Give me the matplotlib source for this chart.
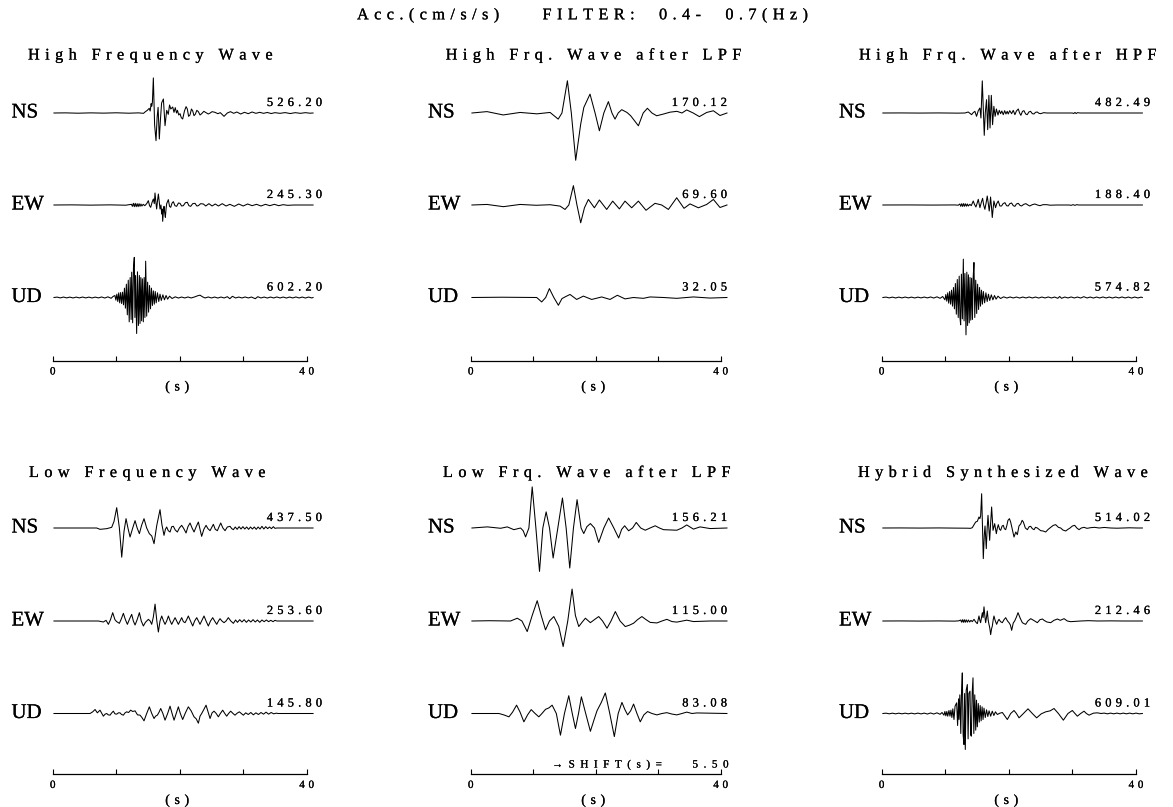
import matplotlib
matplotlib.use("Agg")
import matplotlib.pyplot as plt
import matplotlib.patheffects as pe

W, H = 1173, 807
SERIF = ["Liberation Serif", "DejaVu Serif"]

# ---- data: (time s, acceleration cm/s/s) ----
MAIN_TITLE = "Acc.(cm/s/s)    FILTER:  0.4-  0.7(Hz)"
PANEL_TITLES = [["High Frequency Wave", "High Frq. Wave after LPF", "High Frq. Wave after HPF"],
                ["Low Frequency Wave", "Low Frq. Wave after LPF", "Hybrid Synthesized Wave"]]
COMPONENTS = ["NS", "EW", "UD"]
PEAKS = [[["526.20", "245.30", "602.20"], ["170.12", "69.60", "32.05"], ["482.49", "188.40", "574.82"]],
         [["437.50", "253.60", "145.80"], ["156.21", "115.00", "83.08"], ["514.02", "212.46", "609.01"]]]
TIME_TICKS = [0, 10, 20, 30, 40]
TIME_TICK_LABELS = ["0", "", "", "", "40"]
SHIFT_TEXT = "→SHIFT(s)=   5.50"

hf_ns = [(0.2, 0), (2.0, 2), (4.0, -3), (6.0, 2), (8.0, -2), (10.0, 3), (12.0, -3), (13.5, 2), (14.3, -5),
         (14.6, 20), (14.9, 40), (15.2, 70), (15.35, 30), (15.5, 140), (15.6, 100), (15.7, 160), (15.85, 526),
         (16.05, -180), (16.27, -415), (16.45, -60), (16.6, 85), (16.79, -390), (16.95, -120), (17.15, 150),
         (17.43, 210), (17.69, -190), (17.95, 40), (18.2, -20), (18.4, 120), (18.6, 60), (18.9, 90), (19.1, 10),
         (19.3, 80), (19.5, 0), (19.65, 40), (19.85, -30), (20.05, -10), (20.25, -70), (20.47, -90), (20.75, 30),
         (21.0, 95), (21.2, 60), (21.4, -50), (21.62, -30), (21.85, 60), (22.05, 30), (22.25, -40), (22.45, -20),
         (22.7, 40), (22.94, 20), (23.2, -30), (23.46, -10), (23.8, 25), (24.15, 5), (24.5, -15), (24.8, 0),
         (25.1, 20), (25.56, 10), (26.0, -10), (26.4, 5), (26.98, -50), (27.5, 0), (28.0, 20), (28.5, -5),
         (29.0, 15), (29.6, -15), (30.2, 10), (30.8, -10), (31.4, 15), (32.0, -5), (32.6, 10), (33.2, -5),
         (33.8, 8), (34.4, -8), (35.0, 5), (35.8, -5), (36.6, 6), (37.4, -8), (38.2, 5), (39.0, -5), (39.8, 5),
         (40.5, -3), (41.0, 0)]
hf_ew = [(0.2, 0), (3, 2), (6, -2), (9, 2), (11.5, -3), (12.4, 10), (12.55, -20), (12.7, 25), (12.85, -25),
         (13.0, 25), (13.15, -25), (13.3, 20), (13.45, -25), (13.6, 20), (13.75, -20), (13.9, 15), (14.05, -15),
         (14.25, 10), (14.5, -10), (14.8, 20), (15.06, 65), (15.25, -10), (15.43, -35), (15.65, 40), (15.85, 90),
         (16.0, 20), (16.11, 180), (16.25, 40), (16.37, -60), (16.5, 60), (16.64, 165), (16.8, 30), (16.9, -60),
         (17.05, 0), (17.16, -135), (17.25, -60), (17.32, -245), (17.45, -80), (17.53, -20), (17.64, -120),
         (17.74, -185), (17.85, -60), (17.95, 20), (18.21, 80), (18.4, -20), (18.58, -35), (18.8, 30), (19.0, 50),
         (19.25, -10), (19.52, -20), (19.8, 30), (20.05, 25), (20.3, -15), (20.57, -10), (20.9, 35), (21.2, 40),
         (21.45, -10), (21.73, -20), (22.05, 20), (22.41, 25), (22.7, -15), (22.94, -10), (23.3, 20), (23.73, 15),
         (24.1, -15), (24.6, 20), (25.1, -15), (25.6, 15), (26.1, -15), (26.7, 20), (27.3, -15), (27.9, 10),
         (28.6, -20), (29.3, 15), (30.0, -15), (30.7, 15), (31.4, -10), (32.1, 10), (32.8, -15), (33.5, 10),
         (34.2, -10), (34.9, 10), (35.6, -10), (36.3, 5), (37.0, -5), (38, 0), (41.0, 0)]
hf_ud = [(0.2, 0), (0.7, 6), (1.2, -6), (1.7, 7), (2.2, -6), (2.7, 6), (3.2, -7), (3.7, 6), (4.2, -6),
         (4.7, 7), (5.2, -6), (5.7, 6), (6.2, -7), (6.7, 6), (7.2, -6), (7.7, 8), (8.2, -8), (8.7, 10),
         (9.2, -12), (9.5, 15), (9.8, 30), (9.95, -40), (10.1, 50), (10.25, -60), (10.4, 70), (10.55, -80),
         (10.7, 75), (10.85, -90), (11.0, 80), (11.15, -110), (11.3, 140), (11.45, -160), (11.6, 200),
         (11.75, -260), (11.9, 260), (12.05, -365), (12.2, 300), (12.35, -330), (12.44, 380), (12.59, -380),
         (12.72, 450), (12.85, 602), (12.95, -300), (13.05, 330), (13.22, -540), (13.35, 385), (13.5, -420),
         (13.65, 330), (13.75, -390), (13.88, 300), (14.0, -350), (14.12, 280), (14.27, -365), (14.4, 300),
         (14.52, -300), (14.64, 545), (14.8, -280), (14.95, 230), (15.1, -220), (15.25, 180), (15.4, -170),
         (15.55, 140), (15.7, -120), (15.85, 100), (16.0, -100), (16.15, 90), (16.3, -80), (16.5, 70), (16.7, -60),
         (16.9, 50), (17.1, -45), (17.35, 40), (17.6, -35), (17.85, 30), (18.1, -25), (18.4, 20), (18.8, -15),
         (19.3, 10), (19.8, -8), (20.3, 7), (20.8, -7), (21.3, 8), (21.8, -7), (22.3, 7), (22.8, 25),
         (23.2, 35), (23.6, 10), (24.0, -7), (24.5, 8), (25.0, -7), (25.5, 7), (26.0, -8), (26.5, 7),
         (27.0, -7), (27.5, 12), (27.9, -18), (28.3, 18), (28.8, -7), (29.3, 7), (29.8, -7), (30.3, 8),
         (30.8, -7), (31.3, 7), (31.9, -18), (32.3, 12), (32.8, -7), (33.3, 7), (33.8, -8), (34.3, 7),
         (34.8, -7), (35.3, 8), (35.8, -7), (36.3, 7), (36.8, -8), (37.3, 7), (37.8, -7), (38.3, 8),
         (38.8, -7), (39.3, 7), (39.8, -8), (40.3, 7), (40.8, -7), (41.0, 0)]

hf_lpf_ns = [(0.2, 0), (2.6, 5), (5.2, -7), (7.9, 2), (10.6, -3), (12.7, 2), (14.0, -22), (14.6, 0), (15.47, 116),
             (16.1, 0), (16.8, -170.12), (17.6, -40), (18.1, 20), (19.09, 68), (19.9, 0), (20.59, -64), (21.3, 0),
             (22.03, 41), (22.6, 0), (23.09, -22), (23.6, 0), (24.16, 12), (25.0, 2), (25.6, -10), (26.83, -46),
             (27.6, 0), (28.27, 17), (29.0, 0), (29.76, -10), (30.8, -4), (31.9, 3), (33.0, 6), (33.8, 0),
             (34.56, 11), (35.6, 0), (36.59, -13), (37.76, 2), (38.83, 8), (39.89, -9), (41.0, 0)]
hf_lpf_ew = [(0.2, 0), (2.6, 2), (5.23, -6), (7.89, 2), (10.5, -1), (12.7, 1), (14.3, -4), (15.09, -16), (15.7, 0),
             (16.43, 69.6), (17.0, 0), (17.6, -64), (18.2, -10), (18.83, 20), (19.79, -10), (20.59, 18),
             (21.76, -16), (22.72, 14), (23.79, -14), (24.69, 14), (25.76, -10), (26.83, 14), (28.05, -19),
             (29.49, 6), (30.56, 0), (31.63, -16), (32.96, 26), (34.13, -12), (35.09, 4), (36.43, -10), (37.76, 2),
             (38.83, 20), (39.89, -9), (41.0, 0)]
hf_lpf_ud = [(0.2, 0), (5, 1), (10.56, 0), (11.36, -16), (12.0, 0), (12.59, 32.05), (13.3, 0), (14.03, -28),
             (14.6, -4), (15.09, 2), (15.89, 11), (16.96, -7), (18.03, 5), (19.36, -7), (20.96, 2), (22.29, -7),
             (23.47, 8), (24.69, -5), (26.03, 0), (27.63, -3), (28.69, 2), (30.83, 0), (32.96, -3), (35.63, 2),
             (38.29, -2), (41.0, 0)]

hf_hpf_ns = [(0.2, 0), (3, 1), (6, -1), (9, 1), (12, -2), (13.1, 0), (13.62, 15), (14.15, -25), (14.4, 5),
             (14.67, 25), (14.93, -50), (15.2, 35), (15.46, 75), (15.62, -75), (15.83, 482), (16.14, -335),
             (16.3, 0), (16.5, 200), (16.68, -250), (16.87, 265), (17.05, -225), (17.25, 265), (17.45, -175),
             (17.65, 100), (17.85, -50), (18.05, 60), (18.3, -30), (18.5, 40), (18.71, -10), (18.9, 30),
             (19.13, -25), (19.35, 35), (19.55, -15), (19.75, 25), (19.91, -15), (20.15, 35), (20.44, -10),
             (20.7, 40), (20.96, -25), (21.2, 30), (21.49, 60), (21.7, 0), (21.9, -35), (22.15, 25), (22.38, 35),
             (22.65, -15), (22.9, -25), (23.15, 15), (23.42, 25), (23.7, -10), (23.95, -15), (24.2, 10),
             (24.47, 15), (24.75, -5), (25.0, -10), (25.5, 5), (26, 0), (30.0, 0), (30.2, -8), (30.4, 8),
             (30.6, -8), (30.8, 5), (31.2, 0), (41.0, 0)]
hf_hpf_ew = [(0.2, 0), (4, 1), (8, -1), (11.5, 1), (12.05, -3), (12.3, 15), (12.45, -20), (12.6, 20), (12.75, -22),
             (12.9, 22), (13.05, -20), (13.2, 18), (13.36, -18), (13.5, 15), (13.65, -15), (13.88, 10), (14.1, -10),
             (14.41, 60), (14.6, 10), (14.83, -30), (15.0, 20), (15.2, 85), (15.35, 10), (15.46, -40), (15.65, 30),
             (15.88, 100), (16.05, 0), (16.24, -65), (16.45, 40), (16.61, 135), (16.78, 20), (16.92, -90),
             (17.03, 0), (17.13, 120), (17.27, -20), (17.4, -188), (17.53, -60), (17.66, 60), (17.92, -40),
             (18.1, 20), (18.34, 60), (18.6, -15), (18.86, -15), (19.1, 20), (19.39, 35), (19.65, -10),
             (19.91, -15), (20.15, 20), (20.44, 30), (20.7, -10), (20.96, -20), (21.2, 15), (21.49, 25),
             (21.75, -5), (22.0, -15), (22.35, 10), (22.69, 20), (23.0, 0), (23.3, -15), (23.7, 5), (24.1, 15),
             (24.5, 0), (24.89, -10), (25.4, 5), (25.94, 5), (26.5, -3), (27.5, 0), (29.5, 0), (29.8, -5),
             (30.1, 5), (30.4, -5), (30.7, 5), (31.0, 0), (41.0, 0)]
hf_hpf_ud = [(0.2, 0), (0.7, 6), (1.2, -6), (1.7, 6), (2.2, -7), (2.7, 6), (3.2, -6), (3.7, 7), (4.2, -6),
             (4.7, 6), (5.2, -7), (5.7, 6), (6.2, -6), (6.7, 7), (7.2, -6), (7.7, 8), (8.2, -8), (8.7, 10),
             (9.2, -12), (9.6, 15), (9.96, -35), (10.1, 45), (10.25, -55), (10.4, 70), (10.55, -85), (10.7, 90),
             (10.85, -100), (11.0, 110), (11.15, -130), (11.3, 150), (11.45, -170), (11.6, 210), (11.75, -250),
             (11.9, 270), (12.05, -300), (12.2, 320), (12.32, -300), (12.43, -410), (12.55, 350), (12.7, -320),
             (12.85, 575), (12.97, -350), (13.1, 360), (13.27, -560), (13.4, 380), (13.52, -420), (13.65, 340),
             (13.78, -380), (13.9, 300), (14.02, -340), (14.15, 290), (14.28, -330), (14.4, 300), (14.52, 525),
             (14.65, -300), (14.8, 260), (14.95, -240), (15.1, 200), (15.25, -180), (15.4, 150), (15.55, -130),
             (15.7, 110), (15.85, -100), (16.0, 90), (16.2, -80), (16.4, 70), (16.6, -60), (16.8, 50), (17.0, -45),
             (17.25, 40), (17.5, -35), (17.75, 30), (18.0, -25), (18.3, 20), (18.7, -15), (19.2, 10), (19.7, -8),
             (20.2, 8), (20.7, -7), (21.2, 7), (21.7, -8), (22.2, 7), (22.7, -7), (23.2, 8), (23.7, -7),
             (24.2, 7), (24.7, -8), (25.2, 7), (25.7, -7), (26.2, 8), (26.7, -7), (27.2, 7), (27.7, -12),
             (28.0, 15), (28.3, -12), (28.8, 7), (29.3, -7), (29.8, 8), (30.3, -7), (30.8, 7), (31.3, -8),
             (31.8, 12), (32.3, -7), (32.8, 7), (33.3, -8), (33.8, 7), (34.3, -7), (34.8, 8), (35.3, -7),
             (35.8, 7), (36.3, -8), (36.8, 7), (37.3, -7), (37.8, 8), (38.3, -7), (38.8, 7), (39.3, -8),
             (39.8, 7), (40.3, -7), (40.8, 6), (41.0, 0)]

lf_ns = [(0.2, 0), (4, 0), (6.93, 0), (7.45, -20), (8.5, -10), (9.29, 10), (9.66, 100), (10.08, 305), (10.5, 0),
         (10.87, -437.5), (11.23, -50), (11.55, 140), (11.85, 0), (12.18, -135), (12.6, 0), (12.97, 110),
         (13.3, 0), (13.65, -85), (14.0, 40), (14.38, 140), (14.8, 0), (15.22, -85), (15.6, -120), (15.96, -235),
         (16.38, 35), (16.9, 275), (17.2, 50), (17.53, -110), (17.75, -20), (17.95, 15), (18.2, -40), (18.48, -60),
         (18.75, 20), (19.0, 25), (19.3, -30), (19.63, -60), (19.95, 0), (20.31, 40), (20.65, -10), (21.0, -75),
         (21.3, 20), (21.63, 75), (21.95, 0), (22.26, -60), (22.6, 20), (22.94, 90), (23.2, -20), (23.46, -125),
         (23.8, -20), (24.15, 40), (24.45, -10), (24.78, -40), (25.05, 10), (25.3, 55), (25.6, -20), (25.93, -40),
         (26.2, 20), (26.46, 75), (26.8, 0), (27.14, -40), (27.5, 15), (27.93, 25), (28.2, -10), (28.45, -25),
         (28.75, 15), (29.05, -20), (29.35, 20), (29.65, -15), (29.95, 20), (30.25, -15), (30.55, 15),
         (30.85, -20), (31.15, 15), (31.45, -15), (31.75, 15), (32.05, -20), (32.35, 15), (32.65, -15),
         (32.95, 25), (33.25, -15), (33.55, 20), (33.85, -10), (34.15, 15), (34.45, -10), (34.75, 20), (35.0, -5),
         (35.3, 0), (41.0, 0)]
lf_ew = [(0.2, 0), (4, 0), (7.19, 0), (7.98, -15), (8.4, 10), (8.77, -50), (9.1, 20), (9.45, 125), (9.8, 20),
         (10.08, -10), (10.5, -35), (10.8, 30), (11.13, 115), (11.45, 20), (11.76, -50), (12.1, 30), (12.44, 100),
         (12.7, 0), (12.97, -60), (13.3, 20), (13.65, 125), (13.95, 0), (14.28, -75), (14.6, -20), (15.07, 25),
         (15.35, 0), (15.59, -50), (15.85, 60), (16.12, 253.6), (16.4, 0), (16.64, -165), (16.9, 0), (17.17, 75),
         (17.45, 0), (17.69, -50), (17.95, 0), (18.22, 75), (18.5, 0), (18.74, -50), (19.0, 0), (19.27, 50),
         (19.53, 0), (19.79, -50), (20.05, 0), (20.31, 50), (20.58, -10), (20.84, -25), (21.1, 20), (21.36, 75),
         (21.7, 0), (22.05, -75), (22.35, 0), (22.68, 50), (22.95, 0), (23.2, -50), (23.5, 10), (23.83, 75),
         (24.15, 0), (24.51, -75), (24.85, 0), (25.2, 50), (25.5, 0), (25.83, -50), (26.1, 0), (26.35, 35),
         (26.65, 0), (26.98, -25), (27.3, 0), (27.66, 50), (28.05, 0), (28.45, -35), (28.8, 15), (29.1, -20),
         (29.45, 20), (29.8, -15), (30.15, 20), (30.5, -20), (30.85, 15), (31.2, -15), (31.55, 20), (31.9, -15),
         (32.25, 15), (32.6, -20), (32.95, 15), (33.3, -10), (33.65, 15), (34.0, -10), (34.35, 10), (34.7, -10),
         (35.0, 10), (35.3, 0), (41.0, 0)]
lf_ud = [(0.2, 0), (4, 0), (5.88, 0), (6.3, 25), (6.67, 60), (7.03, 10), (7.45, 50), (7.98, -40), (8.25, -10),
         (8.5, 0), (8.75, -20), (9.03, -25), (9.3, 10), (9.55, 35), (9.8, -5), (10.08, -10), (10.35, 10),
         (10.6, 10), (10.85, -15), (11.13, -25), (11.4, 10), (11.65, 25), (11.95, 15), (12.28, 50), (12.6, 30),
         (12.97, 40), (13.35, -20), (13.75, -25), (14.05, -60), (14.38, -110), (14.8, 0), (15.22, 100), (15.6, 0),
         (15.96, -75), (16.2, -40), (16.48, -25), (16.75, 20), (17.01, 75), (17.35, 0), (17.69, -100), (18.1, 0),
         (18.48, 110), (18.8, 0), (19.11, -100), (19.45, 0), (19.79, 100), (20.1, 0), (20.47, -90), (20.9, 10),
         (21.36, 100), (21.8, 40), (22.26, -50), (22.6, -80), (22.94, -145.8), (23.2, -40), (23.46, 0),
         (23.8, 60), (24.15, 125), (24.45, 30), (24.78, -75), (25.1, 10), (25.41, 35), (25.75, 0), (26.09, -50),
         (26.4, 0), (26.77, 50), (27.1, 0), (27.4, -40), (27.7, 0), (28.03, 35), (28.4, 0), (28.71, -25),
         (29.05, 5), (29.4, 25), (29.7, 0), (30.03, -25), (30.4, 10), (30.8, -15), (31.2, 15), (31.6, -20),
         (32.0, 10), (32.4, -15), (32.8, 15), (33.2, -10), (33.6, 20), (34.0, -10), (34.4, 15), (34.8, -5),
         (35.2, 5), (35.5, 0), (41.0, 0)]

lf_lpf_ns = [(0.2, 0), (2.66, 4), (4.79, -1), (5.85, 4), (6.91, -6), (7.98, 0), (8.4, -10), (8.78, -32),
             (9.31, 0), (9.84, 148), (10.43, 0), (11.01, -156.21), (11.54, 0), (12.07, 58), (12.61, 0),
             (13.19, -108), (13.94, 0), (14.68, 108), (15.27, 0), (15.85, -144), (16.44, 0), (17.02, 102),
             (17.66, 0), (18.09, -20), (18.6, 5), (19.15, 16), (19.8, 0), (20.48, -52), (21.3, 0), (22.07, 36),
             (22.9, 0), (23.67, -36), (24.15, -5), (24.63, 8), (25.27, -10), (25.9, 0), (26.49, 20), (27.2, 0),
             (27.93, -8), (28.7, 0), (29.52, 8), (30.2, 0), (30.85, -6), (31.9, -7), (32.98, -8), (33.8, 0),
             (34.57, 11), (35.64, -4), (36.7, 4), (38.3, -2), (41.0, 0)]
lf_lpf_ew = [(0.2, 0), (3.0, 1), (6.38, 0), (7.45, 10), (8.2, 0), (9.04, -38), (9.84, 20), (10.64, 73),
             (11.28, 20), (11.97, -32), (12.6, 0), (13.3, 16), (14.1, -20), (14.79, -92), (15.53, 0), (16.22, 115),
             (16.75, 20), (17.29, -20), (17.8, -5), (18.35, 10), (19.15, -6), (19.8, 5), (20.48, 16), (21.1, 0),
             (21.81, -26), (22.45, 0), (23.14, 34), (23.9, 0), (24.73, -20), (25.4, -15), (26.06, -8), (26.7, 5),
             (27.39, 16), (28.05, 5), (28.72, -5), (29.79, -7), (30.6, 0), (31.38, 6), (32.2, -2), (32.98, -4),
             (34.57, 3), (35.64, -2), (38.3, 0), (41.0, 0)]
lf_lpf_ud = [(0.2, 0), (4.52, 0), (5.3, -5), (6.12, -12), (6.7, 5), (7.34, 30), (7.9, 5), (8.51, -30), (9.1, -5),
             (9.68, 14), (10.3, 0), (10.9, -12), (11.4, 0), (11.97, 15), (12.5, 20), (13.03, 30), (13.7, 0),
             (14.36, -78), (15.0, 0), (15.69, 64), (16.25, 0), (16.76, -54), (17.25, 0), (17.71, 60), (18.4, 0),
             (19.15, -64), (19.7, -25), (20.21, 10), (20.9, 40), (21.54, 74), (22.25, 0), (22.98, -83.08),
             (23.6, 0), (24.2, 40), (24.65, 15), (25.11, -5), (25.6, 10), (26.06, 34), (26.6, 0), (27.13, -30),
             (27.7, -5), (28.3, 7), (29.0, 0), (29.79, -5), (30.6, 0), (31.38, 3), (32.2, -2), (32.98, -5),
             (33.8, 0), (34.57, 5), (35.4, 0), (36.17, 2), (41.0, 0)]

hyb_ns = [(0.2, 0), (3, 1), (6, -1), (9, 1), (12, -2), (13.5, -3), (13.99, -5), (14.26, 5), (14.79, 90),
          (15.05, 100), (15.31, 165), (15.45, 140), (15.57, 180), (15.73, 514.02), (15.99, -460), (16.15, -100),
          (16.26, 30), (16.46, -310), (16.6, 0), (16.73, 190), (16.99, -185), (17.15, 80), (17.3, 315),
          (17.52, -35), (17.78, 65), (18.04, -85), (18.2, 0), (18.35, 50), (18.55, -20), (18.72, -35), (18.95, 30),
          (19.14, 40), (19.3, -10), (19.51, -25), (19.7, 40), (19.87, 115), (20.1, 140), (20.29, 90), (20.55, -20),
          (20.82, -135), (21.1, -60), (21.34, -100), (21.6, 30), (21.87, 60), (22.1, 115), (22.29, 90), (22.6, 0),
          (22.92, -25), (23.2, 20), (23.44, 25), (23.7, -10), (23.97, -25), (24.2, 10), (24.49, 0), (24.75, -20),
          (25.01, -40), (25.4, -45), (25.8, -60), (26.2, -20), (26.59, 10), (27.0, 40), (27.37, 50), (27.8, 10),
          (28.16, 0), (28.5, -30), (28.95, -45), (29.3, -20), (29.63, 0), (30.0, 30), (30.36, 40), (30.7, 0),
          (31.04, -25), (31.4, 0), (31.83, 10), (32.3, -5), (32.88, 5), (33.5, 10), (34.2, 0), (35.0, 8),
          (36.0, 0), (37, -3), (38, 0), (39, 3), (40.2, 0), (41.0, 0)]
hyb_ew = [(0.2, 0), (3, 1), (6, -1), (9, 1), (11.5, -2), (12.16, 3), (12.43, 15), (12.58, -18), (12.72, 20),
          (12.86, -20), (13.0, 20), (13.15, -20), (13.3, 18), (13.48, -18), (13.65, 15), (13.85, -15), (14.05, 10),
          (14.26, -10), (14.53, 25), (14.8, -15), (15.05, -40), (15.31, 75), (15.45, 10), (15.57, -25),
          (15.84, 125), (15.95, 50), (16.1, 212.46), (16.25, 60), (16.36, -25), (16.5, 60), (16.62, 150),
          (16.75, 20), (16.88, -50), (17.0, -100), (17.15, -205), (17.28, -120), (17.41, -75), (17.55, 20),
          (17.67, 75), (17.85, 10), (18.09, -50), (18.3, 0), (18.46, 25), (18.7, -10), (18.98, -25), (19.25, 20),
          (19.51, 50), (19.8, 0), (20.03, -25), (20.25, -60), (20.45, -140), (20.7, -30), (20.92, 0), (21.2, 60),
          (21.45, 125), (21.8, 40), (22.13, -25), (22.4, -40), (22.65, -50), (23.0, 0), (23.44, 35), (23.9, 10),
          (24.49, -25), (24.9, 20), (25.3, 30), (25.54, 10), (26.0, -15), (26.59, -25), (27.1, 10), (27.64, 30),
          (28.1, 10), (28.69, 35), (29.2, 0), (29.73, -10), (30.5, -5), (31.31, 0), (32.5, 5), (34, 0), (36, 2),
          (38, 0), (41.0, 0)]
hyb_ud = [(0.2, 0), (0.7, 5), (1.2, -5), (1.7, 5), (2.2, -5), (2.7, 5), (3.2, -5), (3.7, 5), (4.2, -5), (4.7, 5),
          (5.2, -6), (5.7, 6), (6.2, -6), (6.7, 6), (7.2, -8), (7.7, 8), (8.2, -8), (8.7, 10), (9.2, -12),
          (9.5, 15), (9.8, -25), (9.95, 30), (10.1, -35), (10.25, 30), (10.4, -40), (10.59, 45), (10.75, -40),
          (10.9, 50), (11.05, -60), (11.2, 70), (11.38, -90), (11.55, 110), (11.8, 160), (11.95, -180),
          (12.1, 220), (12.17, -90), (12.3, 280), (12.45, -300), (12.57, 340), (12.69, 609.01), (12.82, -320),
          (12.95, -465), (13.05, 300), (13.16, -540), (13.3, 350), (13.48, 435), (13.6, -380), (13.72, 300),
          (13.9, 335), (14.0, -320), (14.11, -340), (14.24, 300), (14.37, 535), (14.5, -300), (14.65, 280),
          (14.8, -250), (14.92, 200), (15.05, -200), (15.2, 150), (15.35, -130), (15.5, 120), (15.65, -110),
          (15.8, 100), (15.95, -90), (16.1, 80), (16.3, -60), (16.5, 55), (16.7, -45), (16.9, 40), (17.15, -40),
          (17.4, 35), (17.65, -30), (17.9, 25), (18.2, -15), (18.6, 5), (18.99, 15), (19.4, -40), (19.77, -90),
          (20.3, 0), (20.82, 45), (21.2, 0), (21.61, -65), (22.3, 0), (23.02, 70), (23.7, 0), (24.38, -65),
          (25.1, -5), (25.8, 25), (26.5, 40), (27.11, 75), (27.8, 0), (28.58, -100), (29.3, 0), (29.99, 45),
          (30.4, 0), (30.78, -40), (31.3, 0), (31.83, 35), (32.2, 0), (32.62, -25), (33.3, 5), (33.93, 10),
          (34.5, 0), (35.0, 6), (35.5, -5), (36.0, 6), (36.5, -5), (37.0, 6), (37.5, -5), (38.0, 6), (38.5, -5),
          (39.0, 6), (39.5, -5), (40.0, 6), (40.5, -5), (41.0, 0)]

TRACES = [[[hf_ns, hf_ew, hf_ud], [hf_lpf_ns, hf_lpf_ew, hf_lpf_ud], [hf_hpf_ns, hf_hpf_ew, hf_hpf_ud]],
          [[lf_ns, lf_ew, lf_ud], [lf_lpf_ns, lf_lpf_ew, lf_lpf_ud], [hyb_ns, hyb_ew, hyb_ud]]]

# ---- layout (pixels of the 1173x807 sheet) ----
COL_X0 = [52.7, 470.7, 881.6]        # x of t = 0
COL_PPS = [6.35, 6.25, 6.36]         # pixels per second
ROW_BASE = [[113, 205, 297.5], [528, 621, 713.5]]
ROW_AXIS = [360.5, 774]
ROW_TITLE = [59.5, 477]
TITLE_X = [[28, 445.7, 859], [29, 443, 858]]
COMP_X = [11.5, 428, 839]
VALUE_X = [322, 727, 1150]
UNITS_PER_PX = [15.0, 3.6, 15.0]
HALF = 46
INK = [pe.withStroke(linewidth=0.15, foreground="black")]


def spaced(s, gap="\u2004"):
    # plotter lettering: a gap after every character
    return gap.join(s)


fig = plt.figure(figsize=(W / 100, H / 100), dpi=100)


def px_axes(x, y, w, h):
    ax = fig.add_axes([x / W, 1 - (y + h) / H, w / W, h / H])
    ax.patch.set_visible(False)
    return ax


def label(x, y, s, size, **kw):
    return fig.text(x / W, 1 - y / H, s, family=SERIF, size=size, color="black", path_effects=INK, **kw)


label(357, 19.3, spaced(MAIN_TITLE), 11.7, va="baseline", ha="left")

for r in range(2):
    for c in range(3):
        label(TITLE_X[r][c], ROW_TITLE[r], spaced(PANEL_TITLES[r][c]), 11.7, va="baseline", ha="left")
        lim = HALF * UNITS_PER_PX[c]
        for k in range(3):
            base = ROW_BASE[r][k]
            ax = px_axes(COL_X0[c], base - HALF, 40 * COL_PPS[c], 2 * HALF)
            pts = TRACES[r][c][k]
            ax.plot([p[0] for p in pts], [p[1] for p in pts], color="black", lw=0.75, clip_on=False)
            ax.set_xlim(0, 40)
            ax.set_ylim(-lim, lim)
            ax.axis("off")
            label(COMP_X[c], base, COMPONENTS[k], 15, va="center", ha="left")
            label(VALUE_X[c], base - 10, spaced(PEAKS[r][c][k]), 9, va="center", ha="right")

        # time axis under each panel
        ax = px_axes(COL_X0[c], ROW_AXIS[r] - 10, 40 * COL_PPS[c], 10)
        for s in ["top", "left", "right"]:
            ax.spines[s].set_visible(False)
        ax.spines["bottom"].set_linewidth(0.9)
        ax.set_xlim(0, 40)
        ax.set_yticks([])
        ax.set_xticks(TIME_TICKS)
        ax.set_xticklabels([spaced(s) for s in TIME_TICK_LABELS], family=SERIF, fontsize=8,
                           path_effects=INK)
        ax.tick_params(axis="x", direction="in", length=3.5, width=0.8, pad=5)
        ax.annotate(spaced("(s)"), xy=(19.6, 0), xycoords=("data", "axes fraction"), xytext=(0, -19),
                    textcoords="offset points", ha="center", va="center", family=SERIF, fontsize=10,
                    path_effects=INK)
        if r == 1 and c == 1:
            ax.annotate(spaced(SHIFT_TEXT, "\u2002"), xy=(13.0, 0), xycoords=("data", "axes fraction"),
                        xytext=(0, 6.5), textcoords="offset points", ha="left", va="center",
                        family=SERIF, fontsize=8, path_effects=INK)

fig.savefig("out.png", dpi=100)
